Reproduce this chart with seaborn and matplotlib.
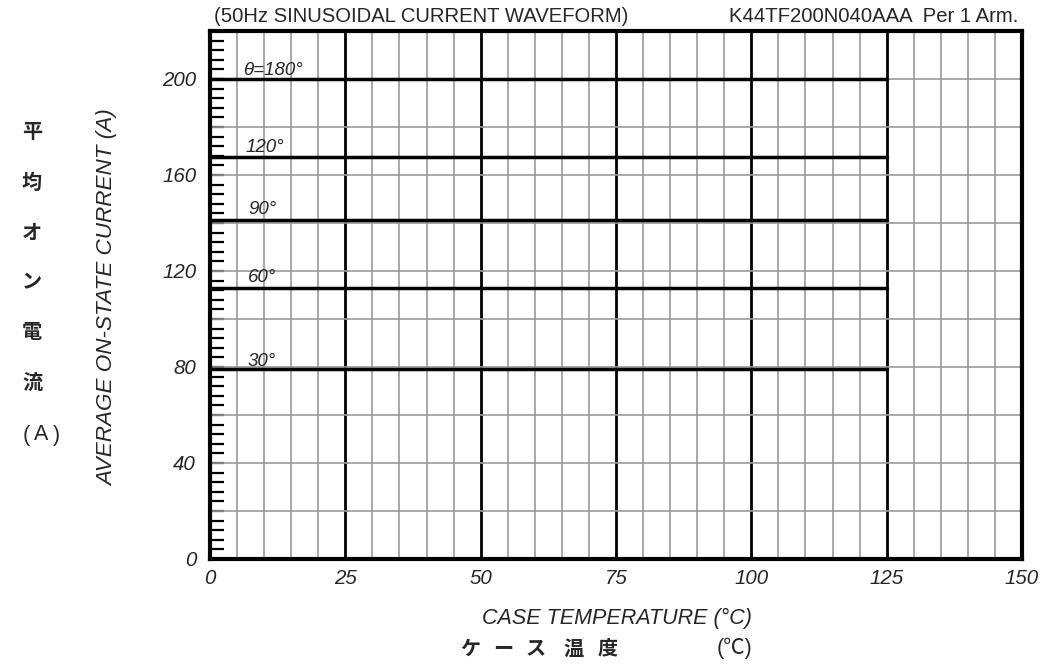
import numpy as np
import pandas as pd
import matplotlib
matplotlib.use("Agg")
import matplotlib.pyplot as plt
from matplotlib.ticker import MultipleLocator
import seaborn as sns

# ---- data ----
angle_labels = ["θ=180°", "120°", "90°", "60°", "30°"]
avg_current = [200.0, 167.4, 141.3, 112.9, 79.2]
temp_start = [0, 0, 0, 0, 0]
temp_end = [125, 125, 125, 125, 125]
x_ticks = [0, 25, 50, 75, 100, 125, 150]
y_ticks = [0, 40, 80, 120, 160, 200]

rows = []
for lab, cur, t0, t1 in zip(angle_labels, avg_current, temp_start, temp_end):
    rows.append({"angle": lab, "temp": t0, "current": cur})
    rows.append({"angle": lab, "temp": t1, "current": cur})
df = pd.DataFrame(rows)

sns.set_theme(style="white")
plt.rcParams["font.family"] = ["Liberation Sans", "DejaVu Sans"]

JP = ["Noto Sans CJK JP", "DejaVu Sans"]

fig = plt.figure(figsize=(10.49, 6.66), dpi=100)
ax = fig.add_axes([210 / 1049, 107 / 666, 812 / 1049, 528 / 666])

ax.set_xlim(0, 150)
ax.set_ylim(0, 220)

# grid
for yv in np.arange(20, 221, 20):
    ax.axhline(yv, color="#999999", lw=1.2, zorder=1)
ax.xaxis.set_major_locator(MultipleLocator(25))
ax.xaxis.set_minor_locator(MultipleLocator(5))
ax.grid(which="minor", axis="x", color="#999999", lw=1.2, zorder=1)
ax.grid(which="major", axis="x", color="black", lw=2.0, zorder=2)
ax.grid(which="major", axis="y", visible=False)

palette = {lab: "black" for lab in angle_labels}
sns.lineplot(data=df, x="temp", y="current", hue="angle", palette=palette,
             linewidth=2.5, legend=False, ax=ax, zorder=3)

label_pos = [(6.1, 201.7), (6.5, 169.6), (7.0, 143.7), (7.0, 115.4), (7.0, 80.6)]
for lab, (lx, ly) in zip(angle_labels, label_pos):
    ax.text(lx, ly, lab, fontsize=13.5, style="italic", ha="left", va="baseline", zorder=4)

# ticks
ax.set_xticks(x_ticks)
ax.set_xticklabels([str(v) for v in x_ticks], fontsize=14.8, style="italic")
ax.set_yticks(y_ticks)
ax.set_yticklabels([str(v) for v in y_ticks], fontsize=14.8, style="italic")
ax.yaxis.set_minor_locator(MultipleLocator(4))
ax.tick_params(axis="x", which="both", length=0, pad=7)
ax.tick_params(axis="y", which="both", direction="in", length=10, width=1.6,
               color="black", left=True, pad=10)
for s in ax.spines.values():
    s.set_color("black")
    s.set_linewidth(3)
    s.set_zorder(5)

ax.set_xlabel("")
ax.set_ylabel("")

# texts
fig.text(214 / 1049, 1 - 17 / 666, "(50Hz SINUSOIDAL CURRENT WAVEFORM)", fontsize=14.6,
         ha="left", va="center")
fig.text(1018 / 1049, 1 - 17 / 666, "K44TF200N040AAA  Per 1 Arm.", fontsize=14.6,
         ha="right", va="center")
fig.text(617 / 1049, 1 - 618 / 666, "CASE TEMPERATURE (°C)", fontsize=15.5,
         style="italic", ha="center", va="center")
bottom_chars = ["ケ", "ー", "ス", "温", "度"]
bottom_x = [470, 503, 536, 573, 608]
for ch, bx in zip(bottom_chars, bottom_x):
    fig.text(bx / 1049, 1 - 648 / 666, ch, fontsize=14.5, fontweight="bold",
             ha="center", va="center", family=JP)
fig.text(735 / 1049, 1 - 648 / 666, "(℃)", fontsize=15.5, ha="center", va="center",
         family=["Liberation Sans", "Noto Sans CJK JP", "DejaVu Sans"])
fig.text(108 / 1049, 1 - 298 / 666, "AVERAGE ON-STATE CURRENT (A)", fontsize=16.2,
         style="italic", rotation=90, ha="center", va="center")
jp_chars = ["平", "均", "オ", "ン", "電", "流"]
for i, ch in enumerate(jp_chars):
    fig.text(32 / 1049, 1 - (132 + 50 * i) / 666, ch, fontsize=14.5, fontweight="bold",
             ha="center", va="center", family=JP)
for ch, px in zip(["(", "A", ")"], [26, 41, 56]):
    fig.text(px / 1049, 1 - 435 / 666, ch, fontsize=15.5, ha="center", va="center")

fig.savefig("out.png", dpi=100)
